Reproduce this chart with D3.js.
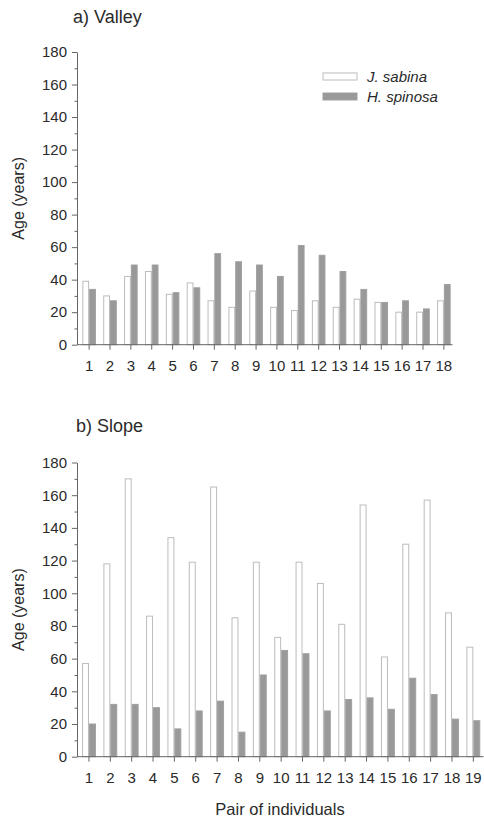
<!DOCTYPE html>
<meta charset="utf-8">
<style>
body { margin: 0; background: #fff; }
svg { font-family: "Liberation Sans", Arial, sans-serif; }
.axis text { fill: #2a2a2a; font-size: 15px; }
.axis line, .axis path { stroke: #666; }
</style>
<svg width="484" height="819"></svg>
<script src="https://cdn.jsdelivr.net/npm/d3@7/dist/d3.min.js"></script>
<script>

// valley pairs
var valleyPairs = d3.range(1, 19);
var valleySabina  = [39, 30, 42, 45, 31, 38, 27, 23, 33, 23, 21, 27, 23, 28, 26, 20, 20, 27];
var valleySpinosa = [34, 27, 49, 49, 32, 35, 56, 51, 49, 42, 61, 55, 45, 34, 26, 27, 22, 37];

// slope pairs
var slopePairs = d3.range(1, 20);
var slopeSabina  = [57, 118, 170, 86, 134, 119, 165, 85, 119, 73, 119, 106, 81, 154, 61, 130, 157, 88, 67];
var slopeSpinosa = [20, 32, 32, 30, 17, 28, 34, 15, 50, 65, 63, 28, 35, 36, 29, 48, 38, 23, 22];

var yTicks = d3.range(0, 181, 20);
var species = ["J. sabina", "H. spinosa"];

var svg = d3.select("svg");
var fills = { "J. sabina": "#fff", "H. spinosa": "#999" };
var strokes = { "J. sabina": "#bcbcbc", "H. spinosa": "#a0a0a0" };

function panel(opt) {
  var g = svg.append("g");

  var x = d3.scaleBand().domain(opt.pairs)
      .range([opt.x0, opt.x1])
      .paddingInner(0.35)
      .paddingOuter(0.175);
  var x1 = d3.scaleBand().domain(species).range([0, x.bandwidth()]);
  var y = d3.scaleLinear().domain([0, 180]).range([opt.yBottom, opt.yTop]);

  var rows = opt.pairs.map(function(p, i) {
    return { pair: p, values: [opt.sabina[i], opt.spinosa[i]] };
  });

  var grp = g.selectAll(".pair")
    .data(rows)
    .enter().append("g")
      .attr("transform", function(d) { return "translate(" + x(d.pair) + ",0)"; });

  grp.selectAll("rect")
    .data(function(d) { return species.map(function(s, k) { return { key: s, value: d.values[k] }; }); })
    .enter().append("rect")
      .attr("x", function(d) { return x1(d.key) + 0.5; })
      .attr("y", function(d) { return y(d.value); })
      .attr("width", x1.bandwidth() - 1)
      .attr("height", function(d) { return y(0) - y(d.value); })
      .attr("fill", function(d) { return fills[d.key]; })
      .attr("stroke", function(d) { return strokes[d.key]; })
      .attr("stroke-width", 1);

  // y axis: labelled ticks every 20, minor every 10
  g.append("g")
      .attr("class", "axis")
      .attr("transform", "translate(" + opt.axisX + ",0)")
      .call(d3.axisLeft(y).tickValues(yTicks).tickSize(5).tickPadding(5).tickSizeOuter(0));
  g.append("g")
      .attr("class", "axis")
      .attr("transform", "translate(" + opt.axisX + ",0)")
      .call(d3.axisLeft(y).tickValues(d3.range(10, 180, 20)).tickSize(2.5).tickFormat("").tickSizeOuter(0))
      .select(".domain").remove();

  // x axis
  var xa = g.append("g")
      .attr("class", "axis")
      .attr("transform", "translate(0," + y(0) + ")")
      .call(d3.axisBottom(x).tickSize(5).tickPadding(11).tickSizeOuter(0));
  xa.select(".domain").remove();
  xa.append("line")
      .attr("x1", opt.axisX).attr("x2", opt.axisEnd)
      .attr("stroke", "#666");

  g.append("text")
      .attr("transform", "translate(24," + (opt.yTop + opt.yBottom) / 2 + ") rotate(-90)")
      .attr("text-anchor", "middle")
      .attr("fill", "#2a2a2a")
      .style("font-size", "16px")
      .text("Age (years)");

  g.append("text")
      .attr("x", opt.titleX).attr("y", opt.titleY)
      .attr("fill", "#2a2a2a")
      .style("font-size", "18px")
      .text(opt.title);

  return { g: g, x: x, y: y };
}

var valleyPanel = panel({
  pairs: valleyPairs, sabina: valleySabina, spinosa: valleySpinosa,
  x0: 78.7, x1: 454.3, axisX: 77, axisEnd: 452.5,
  yTop: 52, yBottom: 344.7,
  title: "a) Valley", titleX: 73, titleY: 23
});

var slopePanel = panel({
  pairs: slopePairs, sabina: slopeSabina, spinosa: slopeSpinosa,
  x0: 78.3, x1: 484, axisX: 77, axisEnd: 483.5,
  yTop: 462.5, yBottom: 756.7,
  title: "b) Slope", titleX: 76, titleY: 432
});

slopePanel.g.append("text")
    .attr("x", 280).attr("y", 815)
    .attr("text-anchor", "middle")
    .attr("fill", "#2a2a2a")
    .style("font-size", "16.5px")
    .text("Pair of individuals");

// legend (valley panel)
var legend = valleyPanel.g.selectAll(".legend")
  .data(species)
  .enter().append("g")
    .attr("transform", function(d, i) { return "translate(323," + (73 + i * 20) + ")"; });

legend.append("rect")
    .attr("width", 34).attr("height", 7)
    .attr("fill", function(d) { return fills[d]; })
    .attr("stroke", function(d) { return strokes[d]; });

legend.append("text")
    .attr("x", 44).attr("y", 3.5)
    .attr("dy", "0.35em")
    .attr("fill", "#2a2a2a")
    .style("font-size", "15px")
    .style("font-style", "italic")
    .text(function(d) { return d; });

</script>
